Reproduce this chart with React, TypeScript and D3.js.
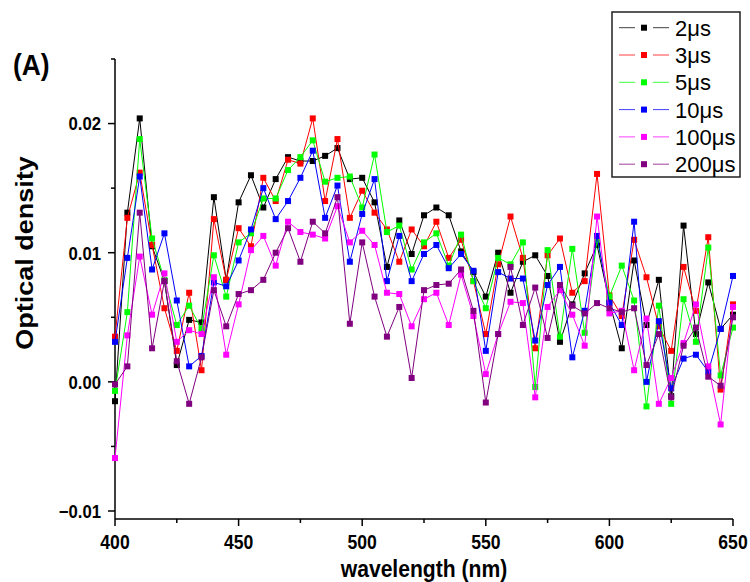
import React, { useEffect, useRef } from 'react';
import * as d3 from 'd3';

// wavelengths (nm)
const wavelengths = [
  400, 405, 410, 415, 420, 425, 430, 435, 440, 445, 450, 455, 460, 465, 470, 475, 480,
  485, 490, 495, 500, 505, 510, 515, 520, 525, 530, 535, 540, 545, 550, 555, 560, 565,
  570, 575, 580, 585, 590, 595, 600, 605, 610, 615, 620, 625, 630, 635, 640, 645, 650,
];

// optical density for each delay
const od2us = [
  -0.0015, 0.0131, 0.0204, 0.0105, 0.0078, 0.0013, 0.0048, 0.0046, 0.0143, 0.0079, 0.0139,
  0.0160, 0.0135, 0.0157, 0.0174, 0.0171, 0.0171, 0.0175, 0.0181, 0.0157, 0.0158, 0.0139,
  0.0089, 0.0125, 0.0099, 0.0129, 0.0135, 0.0129, 0.0101, 0.0085, 0.0066, 0.0100, 0.0069,
  0.0093, 0.0098, 0.0082, 0.0031, 0.0060, 0.0084, 0.0106, 0.0062, 0.0026, 0.0094, 0.0044,
  0.0079, -0.0011, 0.0121, 0.0037, 0.0077, 0.0041, 0.0052,
];
const od3us = [
  0.0035, 0.0127, 0.0162, 0.0106, 0.0057, 0.0024, 0.0069, 0.0009, 0.0126, 0.0079, 0.0119,
  0.0105, 0.0158, 0.0140, 0.0172, 0.0169, 0.0204, 0.0140, 0.0188, 0.0127, 0.0148, 0.0131,
  0.0118, 0.0093, 0.0118, 0.0105, 0.0124, 0.0096, 0.0110, 0.0078, 0.0037, 0.0091, 0.0128,
  0.0096, 0.0026, 0.0098, 0.0111, 0.0069, 0.0078, 0.0161, 0.0067, 0.0051, 0.0110, 0.0081,
  0.0043, 0.0024, 0.0089, 0.0055, 0.0112, -0.0006, 0.0060,
];
const od5us = [
  -0.0007, 0.0054, 0.0188, 0.0111, 0.0079, 0.0044, 0.0059, 0.0041, 0.0098, 0.0066, 0.0108,
  0.0115, 0.0142, 0.0142, 0.0164, 0.0174, 0.0187, 0.0155, 0.0158, 0.0159, 0.0135, 0.0176,
  0.0116, 0.0121, 0.0087, 0.0108, 0.0115, 0.0090, 0.0114, 0.0078, 0.0057, 0.0096, 0.0091,
  0.0108, -0.0004, 0.0102, 0.0035, 0.0103, 0.0038, 0.0110, 0.0066, 0.0090, 0.0063, -0.0019,
  0.0059, -0.0017, 0.0064, 0.0031, 0.0104, 0.0005, 0.0042,
];
const od10us = [
  0.0031, 0.0096, 0.0159, 0.0087, 0.0115, 0.0063, 0.0012, 0.0020, 0.0077, 0.0074, 0.0094,
  0.0118, 0.0150, 0.0126, 0.0140, 0.0158, 0.0179, 0.0127, 0.0152, 0.0093, 0.0130, 0.0157,
  0.0078, 0.0113, 0.0078, 0.0099, 0.0106, 0.0088, 0.0099, 0.0086, 0.0024, 0.0085, 0.0080,
  0.0080, 0.0032, 0.0075, 0.0089, 0.0019, 0.0055, 0.0113, 0.0061, 0.0044, 0.0124, 0.0000,
  0.0047, -0.0005, 0.0018, 0.0021, 0.0008, 0.0041, 0.0082,
];
const od100us = [
  -0.0059, 0.0036, 0.0097, 0.0052, 0.0084, 0.0031, 0.0040, 0.0037, 0.0081, 0.0021, 0.0060,
  0.0102, 0.0113, 0.0090, 0.0124, 0.0116, 0.0114, 0.0111, 0.0136, 0.0108, 0.0117, 0.0106,
  0.0069, 0.0068, 0.0043, 0.0064, 0.0069, 0.0044, 0.0083, 0.0051, 0.0006, 0.0037, 0.0062,
  0.0061, -0.0012, 0.0058, 0.0071, 0.0052, 0.0028, 0.0128, 0.0053, 0.0055, 0.0009, 0.0049,
  -0.0017, 0.0003, 0.0030, 0.0060, 0.0012, -0.0033, 0.0058,
];
const od200us = [
  -0.0002, 0.0012, 0.0131, 0.0026, 0.0078, 0.0016, -0.0017, 0.0019, 0.0071, 0.0043, 0.0068,
  0.0071, 0.0079, 0.0100, 0.0119, 0.0093, 0.0124, 0.0115, 0.0143, 0.0045, 0.0108, 0.0066,
  0.0035, 0.0058, 0.0003, 0.0071, 0.0075, 0.0076, 0.0087, 0.0055, -0.0016, 0.0037, 0.0089,
  0.0044, 0.0073, 0.0034, 0.0075, 0.0059, 0.0053, 0.0061, 0.0057, 0.0054, 0.0057, 0.0013,
  0.0037, -0.0012, 0.0028, 0.0042, 0.0004, -0.0003, 0.0050,
];

const seriesNames = ['2μs', '3μs', '5μs', '10μs', '100μs', '200μs'];
const seriesColors = ['#000000', '#ff0000', '#00ff00', '#0000ff', '#ff00ff', '#800080'];

const xTicks = [400, 450, 500, 550, 600, 650];
const xMinorTicks = [425, 475, 525, 575, 625];
const yTicks = [-0.01, 0, 0.01, 0.02];
const yMinorTicks = [-0.005, 0.005, 0.015, 0.025];

const FONT = '"Liberation Sans", Arial, Helvetica, sans-serif';
const SQUEEZE = 0.88; // the bold labels in the picture are a bit narrow

function App() {
  const ref = useRef<SVGSVGElement>(null);

  useEffect(() => {
    const svg = d3.select(ref.current);
    svg.selectAll('*').remove();

    const left = 115;
    const right = 733;
    const top = 59;
    const bottom = 519;

    const x = d3.scaleLinear().domain([400, 650]).range([left, right]);
    const y = d3.scaleLinear().domain([-0.01062, 0.025]).range([bottom, top]);

    const allSeries = [od2us, od3us, od5us, od10us, od100us, od200us];

    // axes
    const axisLine = svg.append('g').attr('stroke', '#000').attr('stroke-width', 1.5);
    axisLine.append('line').attr('x1', left).attr('x2', left).attr('y1', top).attr('y2', bottom);
    axisLine.append('line').attr('x1', left).attr('x2', right).attr('y1', bottom).attr('y2', bottom);

    yTicks.forEach(t => {
      axisLine.append('line').attr('x1', left - 7).attr('x2', left).attr('y1', y(t)).attr('y2', y(t));
    });
    yMinorTicks.forEach(t => {
      axisLine.append('line').attr('x1', left - 4).attr('x2', left).attr('y1', y(t)).attr('y2', y(t));
    });
    xTicks.forEach(t => {
      axisLine.append('line').attr('x1', x(t)).attr('x2', x(t)).attr('y1', bottom).attr('y2', bottom + 7);
    });
    xMinorTicks.forEach(t => {
      axisLine.append('line').attr('x1', x(t)).attr('x2', x(t)).attr('y1', bottom).attr('y2', bottom + 4);
    });

    const fmt = d3.format('.2f');
    yTicks.forEach(t => {
      svg.append('text')
        .attr('transform', `translate(101, ${y(t)}) scale(${SQUEEZE}, 1)`)
        .attr('text-anchor', 'end')
        .attr('dy', '0.36em')
        .style('font-family', FONT)
        .style('font-weight', 'bold')
        .style('font-size', '19px')
        .text(fmt(t));
    });
    xTicks.forEach(t => {
      svg.append('text')
        .attr('transform', `translate(${x(t)}, 549) scale(${SQUEEZE}, 1)`)
        .attr('text-anchor', 'middle')
        .style('font-family', FONT)
        .style('font-weight', 'bold')
        .style('font-size', '20px')
        .text(t);
    });

    // axis titles
    svg.append('text')
      .attr('transform', `translate(${(left + right) / 2}, 577) scale(${SQUEEZE}, 1)`)
      .attr('text-anchor', 'middle')
      .style('font-family', FONT)
      .style('font-weight', 'bold')
      .style('font-size', '24px')
      .text('wavelength (nm)');

    svg.append('text')
      .attr('transform', `translate(33, 253) scale(${SQUEEZE}, 1) rotate(-90)`)
      .attr('text-anchor', 'middle')
      .style('font-family', FONT)
      .style('font-weight', 'bold')
      .style('font-size', '27px')
      .text('Optical density');

    svg.append('text')
      .attr('transform', `translate(13, 75) scale(${SQUEEZE}, 1)`)
      .style('font-family', FONT)
      .style('font-weight', 'bold')
      .style('font-size', '30px')
      .text('(A)');

    // series
    const line = d3.line<number>()
      .x((d, i) => x(wavelengths[i]))
      .y(d => y(d));

    allSeries.forEach((values, k) => {
      const g = svg.append('g');
      g.append('path')
        .datum(values)
        .attr('d', line)
        .attr('fill', 'none')
        .attr('stroke', seriesColors[k])
        .attr('stroke-width', 1);
      g.selectAll('rect')
        .data(values)
        .enter()
        .append('rect')
        .attr('x', (d, i) => x(wavelengths[i]) - 3)
        .attr('y', d => y(d) - 3)
        .attr('width', 6)
        .attr('height', 6)
        .attr('fill', seriesColors[k]);
    });

    // legend
    const legend = svg.append('g');
    legend.append('rect')
      .attr('x', 612)
      .attr('y', 12)
      .attr('width', 128)
      .attr('height', 165)
      .attr('fill', '#fff')
      .attr('stroke', '#222')
      .attr('stroke-width', 1.5);

    seriesNames.forEach((name, k) => {
      const ry = 27.7 + k * 27.3;
      const row = legend.append('g');
      row.append('line').attr('x1', 619).attr('x2', 635).attr('y1', ry).attr('y2', ry)
        .attr('stroke', seriesColors[k]).attr('stroke-width', 1).attr('opacity', 0.75);
      row.append('line').attr('x1', 653).attr('x2', 669).attr('y1', ry).attr('y2', ry)
        .attr('stroke', seriesColors[k]).attr('stroke-width', 1).attr('opacity', 0.75);
      row.append('rect').attr('x', 641).attr('y', ry - 3).attr('width', 6).attr('height', 6)
        .attr('fill', seriesColors[k]);
      row.append('text')
        .attr('x', 675)
        .attr('y', ry + 8)
        .style('font-family', FONT)
        .style('font-size', '22px')
        .text(name);
    });
  }, []);

  return (
    <svg
      ref={ref}
      width={750}
      height={582}
      style={{ position: 'absolute', left: 0, top: 0, background: '#fff' }}
    />
  );
}

export default App;
